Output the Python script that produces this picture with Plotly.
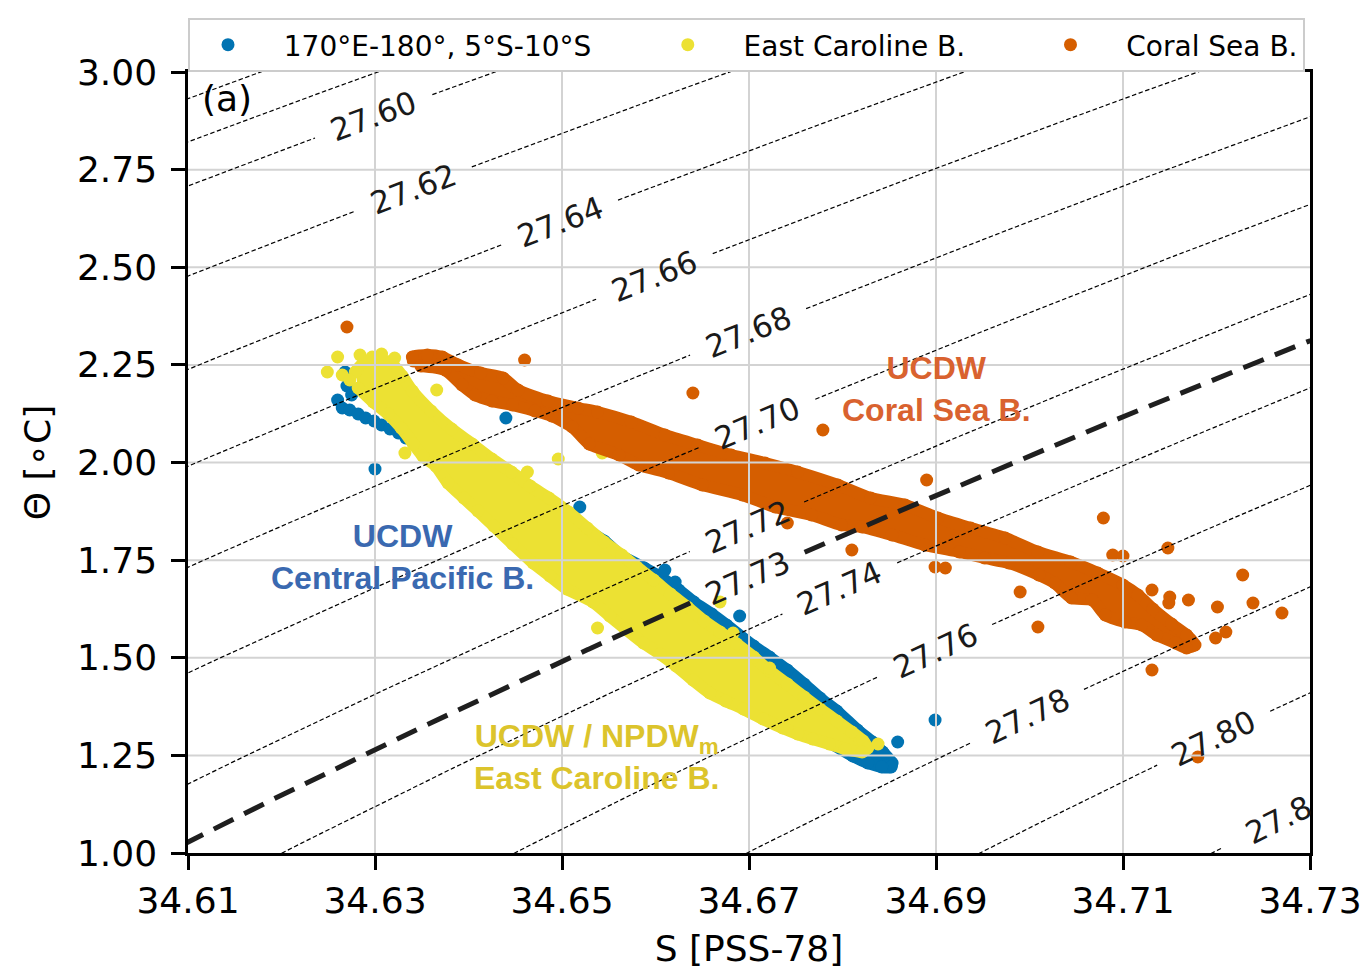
import numpy as np
import plotly.graph_objects as go

# ---------------- data ----------------
# Dense point clouds are given by the outline of the cloud (band_*) plus isolated points (pts_*)
blue_band_S = [34.6359, 34.6545, 34.6562, 34.6588, 34.6607, 34.6625, 34.6641, 34.6660, 34.6676, 34.6705,
               34.6722, 34.6741, 34.6759, 34.6776, 34.6794, 34.6816, 34.6832, 34.6843, 34.6853, 34.6852,
               34.6842, 34.6827, 34.6811, 34.6755, 34.6648, 34.6498]
blue_band_T = [2.0576, 1.7990, 1.7631, 1.7298, 1.7042, 1.6735, 1.6428, 1.6121, 1.5839, 1.5301,
               1.5019, 1.4686, 1.4328, 1.3969, 1.3637, 1.3150, 1.2843, 1.2587, 1.2305, 1.2202,
               1.2202, 1.2305, 1.2484, 1.3278, 1.4815, 1.7375]
blue_pts_S = [34.6260, 34.6265, 34.6273, 34.6282, 34.6290, 34.6299, 34.6307, 34.6316, 34.6325, 34.6333,
              34.6342, 34.6350, 34.6359, 34.6268, 34.6270, 34.6275, 34.6300, 34.6440, 34.6519, 34.6690,
              34.6859, 34.6899, 34.6621, 34.6610]
blue_pts_T = [2.1601, 2.1396, 2.1345, 2.1242, 2.1140, 2.1063, 2.0960, 2.0858, 2.0755, 2.0627,
              2.0499, 2.0346, 2.0192, 2.2318, 2.1959, 2.1729, 1.9834, 2.1140, 1.8861, 1.6069,
              1.2843, 1.3406, 1.6940, 1.7247]

yellow_band_S = [34.6279, 34.6289, 34.6316, 34.6329, 34.6340, 34.6360, 34.6382, 34.6404, 34.6425, 34.6446,
                 34.6466, 34.6486, 34.6507, 34.6527, 34.6545, 34.6564, 34.6580, 34.6598, 34.6616, 34.6634,
                 34.6652, 34.6669, 34.6687, 34.6705, 34.6722, 34.6741, 34.6759, 34.6776, 34.6794, 34.6810,
                 34.6822, 34.6827, 34.6821, 34.6803, 34.6786, 34.6768, 34.6752, 34.6736, 34.6715, 34.6694,
                 34.6675, 34.6658, 34.6640, 34.6622, 34.6605, 34.6587, 34.6568, 34.6551, 34.6533, 34.6505,
                 34.6487, 34.6469, 34.6447, 34.6427, 34.6410, 34.6395, 34.6378, 34.6365, 34.6351, 34.6341,
                 34.6328, 34.6314, 34.6298, 34.6282]
yellow_band_T = [2.2318, 2.2574, 2.2574, 2.2215, 2.1831, 2.1319, 2.0858, 2.0474, 2.0090, 1.9757,
                 1.9398, 1.9091, 1.8733, 1.8323, 1.7964, 1.7631, 1.7324, 1.6991, 1.6633, 1.6300,
                 1.5941, 1.5660, 1.5352, 1.5019, 1.4661, 1.4328, 1.3995, 1.3688, 1.3380, 1.3099,
                 1.2868, 1.2689, 1.2587, 1.2663, 1.2791, 1.2920, 1.3047, 1.3201, 1.3432, 1.3688,
                 1.3893, 1.4097, 1.4430, 1.4789, 1.5096, 1.5378, 1.5736, 1.6069, 1.6428, 1.6761,
                 1.7094, 1.7427, 1.7913, 1.8374, 1.8758, 1.9091, 1.9475, 1.9910, 2.0166, 2.0474,
                 2.0884, 2.1242, 2.1549, 2.1908]
yellow_pts_S = [34.6249, 34.6260, 34.6265, 34.6273, 34.6284, 34.6297, 34.6307, 34.6321, 34.6332, 34.6366,
                34.6496, 34.6543, 34.6538, 34.6669, 34.6683, 34.6722, 34.6838, 34.6463]
yellow_pts_T = [2.2318, 2.2702, 2.2241, 2.2113, 2.2753, 2.2702, 2.2779, 2.2676, 2.0243, 2.1857,
                2.0090, 2.0243, 1.5762, 1.6428, 1.5634, 1.4738, 1.2791, 1.9757]

orange_band_S = [34.6341, 34.6340, 34.6356, 34.6372, 34.6389, 34.6413, 34.6437, 34.6453, 34.6485, 34.6517,
                 34.6538, 34.6574, 34.6610, 34.6645, 34.6681, 34.6717, 34.6752, 34.6795, 34.6830, 34.6867,
                 34.6902, 34.6937, 34.6974, 34.7009, 34.7044, 34.7073, 34.7100, 34.7116, 34.7132, 34.7152,
                 34.7168, 34.7177, 34.7168, 34.7156, 34.7136, 34.7120, 34.7102, 34.7081, 34.7067, 34.7045,
                 34.7027, 34.7010, 34.6978, 34.6952, 34.6925, 34.6888, 34.6853, 34.6821, 34.6799, 34.6767,
                 34.6728, 34.6693, 34.6650, 34.6614, 34.6582, 34.6561, 34.6529, 34.6511, 34.6489, 34.6471,
                 34.6447, 34.6425, 34.6407, 34.6393, 34.6375, 34.6349]
orange_band_T = [2.2599, 2.2702, 2.2753, 2.2702, 2.2497, 2.2292, 2.2164, 2.1857, 2.1575, 2.1396,
                 2.1293, 2.1037, 2.0704, 2.0448, 2.0192, 1.9987, 1.9757, 1.9424, 1.9091, 1.8912,
                 1.8579, 1.8323, 1.8067, 1.7708, 1.7452, 1.7170, 1.6863, 1.6607, 1.6249, 1.5864,
                 1.5583, 1.5327, 1.5250, 1.5378, 1.5583, 1.5839, 1.5916, 1.6095, 1.6479, 1.6530,
                 1.6914, 1.7119, 1.7427, 1.7555, 1.7708, 1.7887, 1.8144, 1.8348, 1.8400, 1.8656,
                 1.8861, 1.9168, 1.9424, 1.9731, 1.9936, 2.0192, 2.0474, 2.0909, 2.1191, 2.1319,
                 2.1473, 2.1575, 2.1729, 2.1985, 2.2369, 2.2471]
orange_pts_S = [34.6270, 34.6460, 34.6640, 34.6779, 34.6890, 34.6810, 34.6741, 34.6899, 34.6910, 34.6990,
                34.7009, 34.7079, 34.7148, 34.7089, 34.7100, 34.7228, 34.7239, 34.7270, 34.7201, 34.7210,
                34.7199, 34.7131, 34.7180, 34.7150, 34.7149, 34.7170, 34.7131]
orange_pts_T = [2.3470, 2.2625, 2.1780, 2.0832, 1.9552, 1.7759, 1.8451, 1.7324, 1.7298, 1.6684,
                1.5787, 1.8579, 1.7811, 1.7631, 1.7606, 1.7119, 1.6402, 1.6146, 1.6300, 1.5660,
                1.5506, 1.4686, 1.2459, 1.6556, 1.6402, 1.6479, 1.6735]

series_names = ["170°E-180°, 5°S-10°S", "East Caroline B.", "Coral Sea B."]

# isopycnal levels (sigma_0, kg m-3)
sigma_levels_thin = [27.58, 27.59, 27.60, 27.62, 27.64, 27.66, 27.68, 27.70,
                     27.72, 27.74, 27.76, 27.78, 27.80, 27.82]
sigma_level_thick = 27.73

x_ticks = [34.61, 34.63, 34.65, 34.67, 34.69, 34.71, 34.73]
y_ticks = [1.00, 1.25, 1.50, 1.75, 2.00, 2.25, 2.50, 2.75, 3.00]

# ---------------- layout / style ----------------
W, H = 1366, 975
ML, MR, MT, MB = 188, 56, 72, 122
XMIN, XMAX, YMIN, YMAX = 34.61, 34.73, 1.0, 3.0
PW, PH = W - ML - MR, H - MT - MB
kx, ky = PW / (XMAX - XMIN), PH / (YMAX - YMIN)

BLUE, YEL, ORA = "#0173b2", "#ece133", "#d55e00"
MSIZE = 13
CLOUD_EDGE = 12   # outline width of the dense clouds
FONT = "DejaVu Sans"
BOLD = "Liberation Sans"

# x position (salinity) of each inline contour label
label_pos_S = {27.60: 34.6298, 27.62: 34.6341, 27.64: 34.6498, 27.66: 34.6599, 27.68: 34.6699,
               27.70: 34.6709, 27.72: 34.6698, 27.73: 34.6698, 27.74: 34.6797, 27.76: 34.6899,
               27.78: 34.6998, 27.80: 34.7197, 27.82: 34.7266}
GAP = 62  # half length (px) of the break in a contour line under its label


# ---------------- equation of state (UNESCO EOS-80, p = 0) ----------------
def sigma0(S, T):
    rw = (999.842594 + 6.793952e-2 * T - 9.095290e-3 * T**2 + 1.001685e-4 * T**3
          - 1.120083e-6 * T**4 + 6.536332e-9 * T**5)
    A = 8.24493e-1 - 4.0899e-3 * T + 7.6438e-5 * T**2 - 8.2467e-7 * T**3 + 5.3875e-9 * T**4
    B = -5.72466e-3 + 1.0227e-4 * T - 1.6546e-6 * T**2
    C = 4.8314e-4
    return rw + A * S + B * S**1.5 + C * S**2 - 1000.0


def dsig_dS(S, T):
    A = 8.24493e-1 - 4.0899e-3 * T + 7.6438e-5 * T**2 - 8.2467e-7 * T**3 + 5.3875e-9 * T**4
    B = -5.72466e-3 + 1.0227e-4 * T - 1.6546e-6 * T**2
    C = 4.8314e-4
    return A + 1.5 * B * np.sqrt(S) + 2 * C * S


def isopycnal(level):
    T = np.linspace(0.7, 3.3, 2601)
    S = np.full_like(T, 34.67)
    for _ in range(8):
        S = S - (sigma0(S, T) - level) / dsig_dS(S, T)
    return S, T


annotations = []


def contour_xy(levels):
    xs, ys = [], []
    for lev in levels:
        S, T = isopycnal(lev)
        mask = np.zeros_like(S, dtype=bool)
        key = round(lev, 2)
        if key in label_pos_S:
            Sc = label_pos_S[key]
            Tc = float(np.interp(Sc, S, T))
            dTdS = (np.interp(Sc + 0.001, S, T) - np.interp(Sc - 0.001, S, T)) / 0.002
            ang = -np.degrees(np.arctan(dTdS * ky / kx))
            mask = np.hypot((S - Sc) * kx, (T - Tc) * ky) < GAP
            txt = "27.8" if key == 27.82 else f"{key:.2f}"
            annotations.append(dict(x=Sc, y=Tc, xref="x", yref="y", text=txt, showarrow=False,
                                    textangle=ang, xanchor="center", yanchor="middle",
                                    font=dict(family=FONT, size=31, color="#1a1a1a")))
        for s, t, m in zip(S, T, mask):
            xs.append(None if m else float(s))
            ys.append(None if m else float(t))
        xs.append(None)
        ys.append(None)
    return xs, ys


fig = go.Figure()


def add_series(bS, bT, pS, pT, color, name):
    fig.add_trace(go.Scatter(x=bS, y=bT, mode="lines", fill="toself", fillcolor=color,
                             line=dict(width=CLOUD_EDGE, color=color, shape="spline", smoothing=0.6),
                             showlegend=False, hoverinfo="skip"))
    fig.add_trace(go.Scatter(x=list(bS) + list(pS), y=list(bT) + list(pT), mode="markers",
                             marker=dict(size=MSIZE, color=color, line=dict(width=0)),
                             name=name, showlegend=True))


NB = "\u00a0"
add_series(blue_band_S, blue_band_T, blue_pts_S, blue_pts_T, BLUE, NB * 2 + series_names[0] + NB * 6)
add_series(yellow_band_S, yellow_band_T, yellow_pts_S, yellow_pts_T, YEL, NB * 2 + series_names[1] + NB * 7)
add_series(orange_band_S, orange_band_T, orange_pts_S, orange_pts_T, ORA, NB * 2 + series_names[2])

# grid lines (drawn above the scatter, below the isopycnals, as in the original)
gx, gy = [], []
for v in x_ticks[1:-1]:
    gx += [v, v, None]
    gy += [YMIN, YMAX, None]
for v in y_ticks[1:-1]:
    gx += [XMIN, XMAX, None]
    gy += [v, v, None]
fig.add_trace(go.Scatter(x=gx, y=gy, mode="lines", line=dict(color="#d3d3d3", width=2),
                         showlegend=False, hoverinfo="skip"))

tx, ty = contour_xy(sigma_levels_thin)
fig.add_trace(go.Scatter(x=tx, y=ty, mode="lines", line=dict(color="black", width=1.2, dash="4.5px,2.5px"),
                         showlegend=False, hoverinfo="skip", connectgaps=False))
kxs, kys = contour_xy([sigma_level_thick])
fig.add_trace(go.Scatter(x=kxs, y=kys, mode="lines", line=dict(color="#1f1f1f", width=5, dash="22px,12px"),
                         showlegend=False, hoverinfo="skip", connectgaps=False))

# water-mass text labels
annotations += [
    dict(x=34.6329, y=1.7580, xref="x", yref="y", showarrow=False,
         text="<b>UCDW<br>Central Pacific B.</b>", font=dict(family=BOLD, size=32, color="#3a69b0")),
    dict(x=34.6901, y=2.1882, xref="x", yref="y", showarrow=False,
         text="<b>UCDW<br>Coral Sea B.</b>", font=dict(family=BOLD, size=32, color="#d9622f")),
    dict(x=34.6537, y=1.2459, xref="x", yref="y", showarrow=False,
         text="<b>UCDW / NPDW<sub>m</sub><br>East Caroline B.</b>", font=dict(family=BOLD, size=32, color="#dcc42c")),
    dict(x=34.6113, y=2.9334, xref="x", yref="y", showarrow=False, xanchor="left",
         text="(a)", font=dict(family=FONT, size=36, color="black")),
]

axis_common = dict(showgrid=False, zeroline=False, ticks="outside", ticklen=14, tickwidth=2.5,
                   tickcolor="black", showline=True, linecolor="black", linewidth=2.5, mirror=True,
                   tickfont=dict(family=FONT, size=36, color="black"))

fig.update_layout(
    width=W, height=H,
    margin=dict(l=ML, r=MR, t=MT, b=MB, autoexpand=False),
    paper_bgcolor="white", plot_bgcolor="white",
    xaxis=dict(range=[XMIN, XMAX], tickvals=x_ticks, ticktext=[f"{v:.2f}" for v in x_ticks],
               ticklabelstandoff=0,
               title=dict(text="S [PSS-78]", font=dict(family=FONT, size=36, color="black"), standoff=16),
               **axis_common),
    yaxis=dict(range=[YMIN, YMAX], tickvals=y_ticks, ticktext=[f"{v:.2f}" for v in y_ticks],
               ticklabelstandoff=7,
               title=dict(text="Θ [∘C]", font=dict(family=FONT, size=36, color="black"), standoff=16),
               **axis_common),
    legend=dict(orientation="h", x=0, xanchor="left", y=1, yanchor="bottom",
                bgcolor="white", bordercolor="#cccccc", borderwidth=2, itemwidth=66,
                font=dict(family=FONT, size=28, color="black")),
    annotations=annotations,
    showlegend=True,
)

fig.write_html("out.html")
